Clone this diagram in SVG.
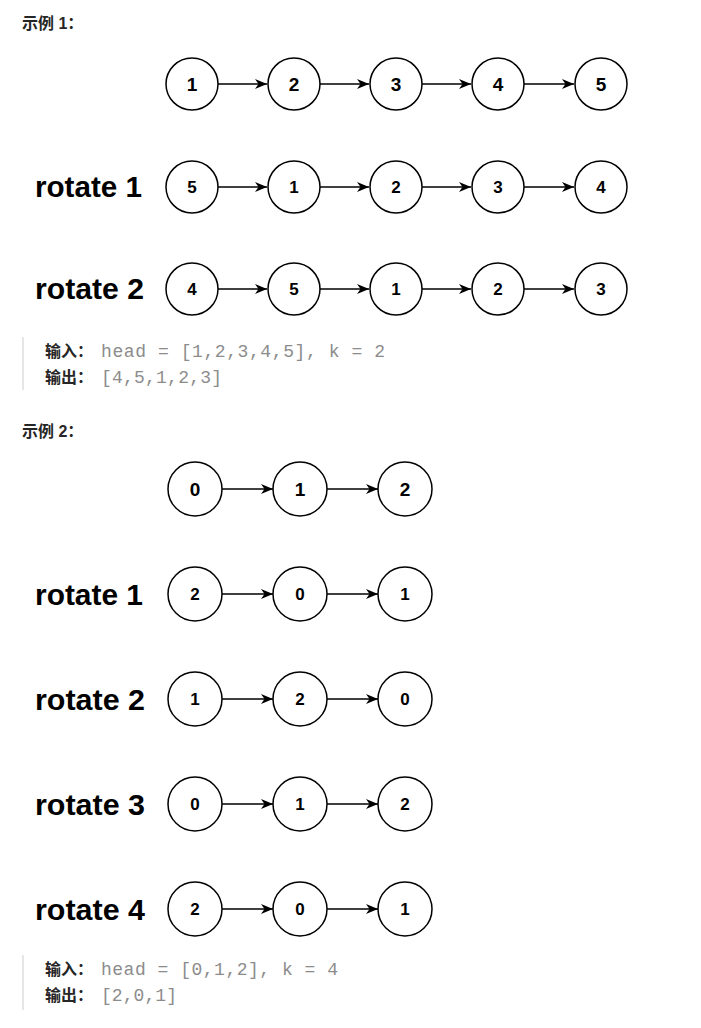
<svg xmlns="http://www.w3.org/2000/svg" width="701" height="1028" viewBox="0 0 701 1028">
<defs>
<style>
.n circle{fill:#fff;stroke:#000;stroke-width:1.5}
.n text{font-family:"Liberation Sans",Arial,sans-serif;font-weight:bold;fill:#000;text-anchor:middle}
.big text{font-size:19px}
.sm text{font-size:17px}
.e line{stroke:#000;stroke-width:1.5;marker-end:url(#ah)}
.lbl{font-family:"Liberation Sans",Arial,sans-serif;font-weight:bold;font-size:29px;fill:#000}
.h{font-family:"Liberation Sans","Noto Sans CJK SC",sans-serif;font-weight:bold;font-size:16px;fill:#262626}
.k{font-family:"Liberation Sans","Noto Sans CJK SC",sans-serif;font-weight:bold;font-size:16px;fill:#262626}
.m{font-family:"Liberation Mono","DejaVu Sans Mono",monospace;font-size:18px;fill:#8c8c8c}
.bar{fill:#e6e6e6}
</style>
<marker id="ah" markerUnits="userSpaceOnUse" markerWidth="13" markerHeight="11" refX="12" refY="5.5" orient="auto">
<path d="M0,0.5 L12,5.5 L0,10.5 L3.5,5.5 Z" fill="#000"/>
</marker>
</defs>
<rect width="701" height="1028" fill="#fff"/>

<text class="h" x="22" y="29">示例 1：</text>

<g id="ex1-labels">
<text class="lbl" x="35" y="197" textLength="107" lengthAdjust="spacingAndGlyphs">rotate 1</text>
<text class="lbl" x="35" y="299" textLength="109" lengthAdjust="spacingAndGlyphs">rotate 2</text>
</g>

<g id="ex1-connectors" class="e">
<line x1="218" y1="84" x2="267" y2="84"/>
<line x1="320" y1="84" x2="369" y2="84"/>
<line x1="422" y1="84" x2="471" y2="84"/>
<line x1="524" y1="84" x2="574" y2="84"/>
<line x1="218" y1="187" x2="267" y2="187"/>
<line x1="320" y1="187" x2="369" y2="187"/>
<line x1="422" y1="187" x2="471" y2="187"/>
<line x1="524" y1="187" x2="574" y2="187"/>
<line x1="218" y1="289" x2="267" y2="289"/>
<line x1="320" y1="289" x2="369" y2="289"/>
<line x1="422" y1="289" x2="471" y2="289"/>
<line x1="524" y1="289" x2="574" y2="289"/>
</g>

<g id="ex1-r0" class="n big">
<g id="e1r0n1"><circle cx="192" cy="84" r="26"/><text x="192" y="91">1</text></g>
<g id="e1r0n2"><circle cx="294" cy="84" r="26"/><text x="294" y="91">2</text></g>
<g id="e1r0n3"><circle cx="396" cy="84" r="26"/><text x="396" y="91">3</text></g>
<g id="e1r0n4"><circle cx="498" cy="84" r="26"/><text x="498" y="91">4</text></g>
<g id="e1r0n5"><circle cx="601" cy="84" r="26"/><text x="601" y="91">5</text></g>
</g>
<g id="ex1-r1" class="n sm">
<g id="e1r1n1"><circle cx="192" cy="187" r="26"/><text x="192" y="193">5</text></g>
<g id="e1r1n2"><circle cx="294" cy="187" r="26"/><text x="294" y="193">1</text></g>
<g id="e1r1n3"><circle cx="396" cy="187" r="26"/><text x="396" y="193">2</text></g>
<g id="e1r1n4"><circle cx="498" cy="187" r="26"/><text x="498" y="193">3</text></g>
<g id="e1r1n5"><circle cx="601" cy="187" r="26"/><text x="601" y="193">4</text></g>
</g>
<g id="ex1-r2" class="n sm">
<g id="e1r2n1"><circle cx="192" cy="289" r="26"/><text x="192" y="295">4</text></g>
<g id="e1r2n2"><circle cx="294" cy="289" r="26"/><text x="294" y="295">5</text></g>
<g id="e1r2n3"><circle cx="396" cy="289" r="26"/><text x="396" y="295">1</text></g>
<g id="e1r2n4"><circle cx="498" cy="289" r="26"/><text x="498" y="295">2</text></g>
<g id="e1r2n5"><circle cx="601" cy="289" r="26"/><text x="601" y="295">3</text></g>
</g>

<g id="ex1-io">
<rect class="bar" x="22" y="337" width="2" height="53"/>
<text class="k" x="45" y="357">输入：</text>
<text class="m" x="101" y="357" textLength="284" lengthAdjust="spacing">head = [1,2,3,4,5], k = 2</text>
<text class="k" x="45" y="383">输出：</text>
<text class="m" x="101" y="383" textLength="121" lengthAdjust="spacing">[4,5,1,2,3]</text>
</g>

<text class="h" x="22" y="437">示例 2：</text>

<g id="ex2-labels">
<text class="lbl" x="35" y="605" textLength="108" lengthAdjust="spacingAndGlyphs">rotate 1</text>
<text class="lbl" x="35" y="710" textLength="110" lengthAdjust="spacingAndGlyphs">rotate 2</text>
<text class="lbl" x="35" y="815" textLength="110" lengthAdjust="spacingAndGlyphs">rotate 3</text>
<text class="lbl" x="35" y="920" textLength="110" lengthAdjust="spacingAndGlyphs">rotate 4</text>
</g>

<g id="ex2-connectors" class="e">
<line x1="222" y1="489" x2="273" y2="489"/>
<line x1="327" y1="489" x2="378" y2="489"/>
<line x1="222" y1="594" x2="273" y2="594"/>
<line x1="327" y1="594" x2="378" y2="594"/>
<line x1="222" y1="699" x2="273" y2="699"/>
<line x1="327" y1="699" x2="378" y2="699"/>
<line x1="222" y1="804" x2="273" y2="804"/>
<line x1="327" y1="804" x2="378" y2="804"/>
<line x1="222" y1="909" x2="273" y2="909"/>
<line x1="327" y1="909" x2="378" y2="909"/>
</g>

<g id="ex2-r0" class="n big">
<g id="e2r0n1"><circle cx="195" cy="489" r="27"/><text x="195" y="496">0</text></g>
<g id="e2r0n2"><circle cx="300" cy="489" r="27"/><text x="300" y="496">1</text></g>
<g id="e2r0n3"><circle cx="405" cy="489" r="27"/><text x="405" y="496">2</text></g>
</g>
<g id="ex2-r1" class="n sm">
<g id="e2r1n1"><circle cx="195" cy="594" r="27"/><text x="195" y="600">2</text></g>
<g id="e2r1n2"><circle cx="300" cy="594" r="27"/><text x="300" y="600">0</text></g>
<g id="e2r1n3"><circle cx="405" cy="594" r="27"/><text x="405" y="600">1</text></g>
</g>
<g id="ex2-r2" class="n sm">
<g id="e2r2n1"><circle cx="195" cy="699" r="27"/><text x="195" y="705">1</text></g>
<g id="e2r2n2"><circle cx="300" cy="699" r="27"/><text x="300" y="705">2</text></g>
<g id="e2r2n3"><circle cx="405" cy="699" r="27"/><text x="405" y="705">0</text></g>
</g>
<g id="ex2-r3" class="n sm">
<g id="e2r3n1"><circle cx="195" cy="804" r="27"/><text x="195" y="810">0</text></g>
<g id="e2r3n2"><circle cx="300" cy="804" r="27"/><text x="300" y="810">1</text></g>
<g id="e2r3n3"><circle cx="405" cy="804" r="27"/><text x="405" y="810">2</text></g>
</g>
<g id="ex2-r4" class="n sm">
<g id="e2r4n1"><circle cx="195" cy="909" r="27"/><text x="195" y="915">2</text></g>
<g id="e2r4n2"><circle cx="300" cy="909" r="27"/><text x="300" y="915">0</text></g>
<g id="e2r4n3"><circle cx="405" cy="909" r="27"/><text x="405" y="915">1</text></g>
</g>

<g id="ex2-io">
<rect class="bar" x="22" y="955" width="2" height="55"/>
<text class="k" x="45" y="975">输入：</text>
<text class="m" x="101" y="975" textLength="237" lengthAdjust="spacing">head = [0,1,2], k = 4</text>
<text class="k" x="45" y="1001">输出：</text>
<text class="m" x="101" y="1001" textLength="76" lengthAdjust="spacing">[2,0,1]</text>
</g>
</svg>
